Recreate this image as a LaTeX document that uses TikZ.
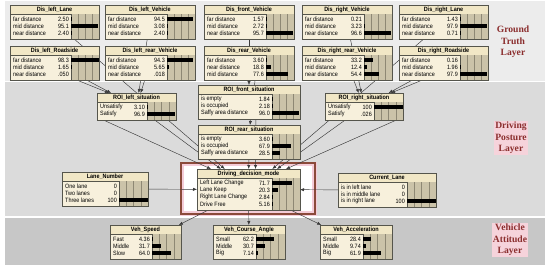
\documentclass[tikz,border=0pt]{standalone}
\usepackage{fontspec}
\setmainfont{Liberation Serif}
\newfontfamily\nfont[FakeStretch=0.88]{Liberation Sans}
\usetikzlibrary{calc,arrows.meta}
\pgfdeclarelayer{bg}\pgfdeclarelayer{links}
\pgfsetlayers{bg,links,main}
\definecolor{titlefill}{HTML}{F1E7C6}
\definecolor{bodyfill}{HTML}{F7F0DC}
\definecolor{barbg}{HTML}{CBC3A9}
\definecolor{gridc}{HTML}{8E8874}
\definecolor{nborder}{HTML}{55554C}
\definecolor{linkc}{HTML}{3A3A3A}
\definecolor{bandA}{HTML}{ECECEC}
\definecolor{bandB}{HTML}{DBDBDB}
\definecolor{bandC}{HTML}{C7C7C7}
\definecolor{layerc}{HTML}{8B2E2E}
\definecolor{pinkhl}{HTML}{F6D3DB}
\definecolor{framec}{HTML}{8B4A3A}
\definecolor{framepink}{HTML}{F4CCD8}
\tikzset{
  nbox/.style={draw=nborder, line width=0.5pt, fill=bodyfill, inner sep=0pt, outer sep=0pt},
  link/.style={draw=linkc, line width=0.45pt, -{Latex[length=4pt,width=3.2pt]}},
  rowtxt/.style={font=\nfont\fontsize{6.2}{7}\selectfont, inner sep=0pt},
  ttl/.style={font=\nfont\bfseries\fontsize{6.2}{7}\selectfont, inner sep=0pt},
  layerlbl/.style={font=\bfseries\fontsize{9.6}{11.5}\selectfont, text=layerc, align=center, inner sep=1pt},
}
% name, x1, y1, x2, barx, nrows, title, rows (label/value/percent)
\newcommand\bnnode[8]{%
  \pgfmathsetmacro\bnH{13+7*#6}%
  \pgfmathsetmacro\bnW{#4-#2}%
  \pgfmathsetmacro\bnCX{(#2+#4)/2}%
  \pgfmathsetmacro\bnCY{#3+\bnH/2}%
  \pgfmathsetmacro\bnYb{#3+\bnH}%
  \node[nbox, minimum width=\bnW pt, minimum height=\bnH pt] (#1) at (\bnCX,\bnCY) {};
  \fill[titlefill] (#2,#3) rectangle (#4,#3+9);
  \draw[nborder, line width=0.4pt] (#2,#3+9) -- (#4,#3+9);
  \node[ttl] at (\bnCX,#3+4.8) {#7};
  \fill[barbg] (#5,#3+9) rectangle (#4,\bnYb);
  \foreach \q in {1,2,3} \draw[gridc, line width=0.4pt] ({#5+\q*(#4-#5)/4},#3+9) -- ({#5+\q*(#4-#5)/4},\bnYb);
  \draw[nborder, line width=0.4pt] (#5,#3+9) -- (#5,\bnYb);
  \foreach \lab/\val/\pct [count=\k from 0] in {#8} {
    \pgfmathsetmacro\ry{#3+14+7*\k}
    \node[rowtxt, anchor=west] at (#2+3,\ry) {\lab};
    \node[rowtxt, anchor=east] at (#5-2,\ry) {\val};
    \ifdim\pct pt>0.3pt
      \fill[black] (#5,\ry-1.7) rectangle ({#5+\pct*(#4-#5)/100},\ry+1.7);
    \fi
  }
  \draw[nborder, line width=0.5pt] (#2,#3) rectangle (#4,\bnYb);
}
\begin{document}
\begin{tikzpicture}[x=1pt,y=-1pt]
\useasboundingbox (0,0) rectangle (550,269);
% ---------- nodes: ground truth layer
\bnnode{dll}{10}{5}{99}{71}{3}{Dis\_left\_Lane}{far distance/2.50/2.5, mid distance/95.1/95.1, near distance/2.40/2.4}
\bnnode{dlv}{105}{5}{195}{167}{3}{Dis\_left\_Vehicle}{far distance/94.5/94.5, mid distance/3.08/3.08, near distance/2.40/2.4}
\bnnode{dfv}{204}{5}{294}{266}{3}{Dis\_front\_Vehicle}{far distance/1.57/1.57, mid distance/2.72/2.72, near distance/95.7/95.7}
\bnnode{drv}{302}{5}{392}{364}{3}{Dis\_right\_Vehicle}{far distance/0.21/0.21, mid distance/3.23/3.23, near distance/96.6/96.6}
\bnnode{drl}{399}{5}{488}{460}{3}{Dis\_right\_Lane}{far distance/1.43/1.43, mid distance/97.9/97.9, near distance/0.71/0.71}
\bnnode{dlr}{10}{46}{99}{71}{3}{Dis\_left\_Roadside}{far distance/98.3/98.3, mid distance/1.65/1.65, near distance/.050/0.05}
\bnnode{dlrv}{105}{46}{195}{167}{3}{Dis\_left\_rear\_Vehicle}{far distance/94.3/94.3, mid distance/5.65/5.65, near distance/.018/0.018}
\bnnode{drev}{204}{46}{294}{266}{3}{Dis\_rear\_Vehicle}{far distance/3.60/3.6, near distance/18.8/18.8, mid distance/77.6/77.6}
\bnnode{drrv}{302}{46}{392}{364}{3}{Dis\_right\_rear\_Vehicle}{far distance/33.2/33.2, mid distance/12.4/12.4, near distance/54.4/54.4}
\bnnode{drr}{399}{46}{488}{460}{3}{Dis\_right\_Roadside}{far distance/0.16/0.16, mid distance/1.96/1.96, near distance/97.9/97.9}
% ---------- driving posture layer
\bnnode{roil}{97}{93}{176}{147}{2}{ROI\_left\_situation}{Unsatisfy/3.10/3.1, Satisfy/96.9/96.9}
\bnnode{roif}{198}{85}{300}{272}{3}{ROI\_front\_situation}{is empty/1.84/1.84, is occupied/2.18/2.18, Saffy area distance/96.0/96.0}
\bnnode{roir}{325}{93}{403}{374}{2}{ROI\_right\_situation}{Unsatisfy/100/100, Satisfy/.026/0.026}
\bnnode{roirear}{198}{125}{300}{272}{3}{ROI\_rear\_situation}{is empty/3.60/3.6, is occupied/67.9/67.9, Saffy area distance/28.5/28.5}
\bnnode{ddm}{197}{169}{300}{272}{4}{Driving\_decision\_mode}{Left Lane Change/71.7/71.7, Lane Keep/20.3/20.3, Right Lane Change/2.84/2.84, Drive Free/5.16/5.16}
\bnnode{ln}{62}{172}{148}{119}{3}{Lane\_Number}{One lane/0/0, Two lanes/0/0, Three lanes/100/100}
\bnnode{cl}{338}{173}{436}{407}{3}{Current\_Lane}{is in left lane/0/0, is in middle lane/0/0, is in right lane/100/100}
% ---------- vehicle attitude layer
\bnnode{vs}{110}{225}{181}{152}{3}{Veh\_Speed}{Fast/4.36/4.36, Middle/31.7/31.7, Slow/64.0/64.0}
\bnnode{vca}{213}{225}{285}{256}{3}{Veh\_Course\_Angle}{Small/62.2/62.2, Middle/30.7/30.7, Big/7.14/7.14}
\bnnode{vac}{320}{225}{392}{363}{3}{Veh\_Acceleration}{Small/28.4/28.4, Middle/9.74/9.74, Big/61.9/61.9}
% ---------- layer labels
\node[layerlbl] (gt) at (513,42) {Ground\\Truth\\Layer};
\node[layerlbl, fill=pinkhl] (dp) at (511,138) {Driving\\Posture\\Layer};
\node[layerlbl, fill=pinkhl] (va) at (510,240) {Vehicle\\Attitude\\Layer};
% ---------- connectors
\begin{pgfonlayer}{links}
\draw[link] (dlr) -- (roil);
\draw[link] ($(dlr.center)+(-20,0)$) -- ($(roil.north west)+(12,0)$);
\draw[link] (dlv) -- (roil);
\draw[link] (dlrv) -- (roil);
\draw[link] (dll) -- (ddm);
\draw[link] (drr) -- (roir);
\draw[link] ($(drr.center)+(20,0)$) -- ($(roir.north east)+(-12,0)$);
\draw[link] (drv) -- (roir);
\draw[link] (drrv) -- (roir);
\draw[link] (drl) -- (ddm);
\draw[link] (dfv) -- (roif);
\draw[link] ($(drev.center)+(8,0)$) -- ($(roirear.north)+(1,0)$);
\draw[link] ($(roif.center)+(7,0)$) -- ($(ddm.north)+(7,0)$);
\draw[link] (roirear) -- (ddm);
\draw[link] (roil) -- (ddm);
\draw[link] ($(roil.south west)+(2,-2)$) -- ($(ddm.north west)+(14,0)$);
\draw[link] (roir) -- (ddm);
\draw[link] ($(roir.south east)+(-2,-2)$) -- ($(ddm.north east)+(-14,0)$);
\draw[link] (ln) -- (ddm);
\draw[link] (cl) -- (ddm);
\draw[link] (ddm) -- (vs);
\draw[link] (ddm) -- (vca);
\draw[link] (ddm) -- (vac);
\end{pgfonlayer}
% ---------- background bands and highlight frame
\begin{pgfonlayer}{bg}
\fill[white] (0,0) rectangle (550,269);
\fill[bandA] (5,1) rectangle (545,81);
\fill[bandB] (5,82) rectangle (545,216);
\fill[bandC] (5,218) rectangle (545,265);
\draw[framepink, line width=3pt] (181,163) rectangle (315,214);
\draw[framec, line width=1.2pt, fill=white] (181,163) rectangle (315,214);
\draw[framepink, line width=1.6pt] (183.2,165.2) rectangle (312.8,211.8);
\end{pgfonlayer}
\end{tikzpicture}
\end{document}
